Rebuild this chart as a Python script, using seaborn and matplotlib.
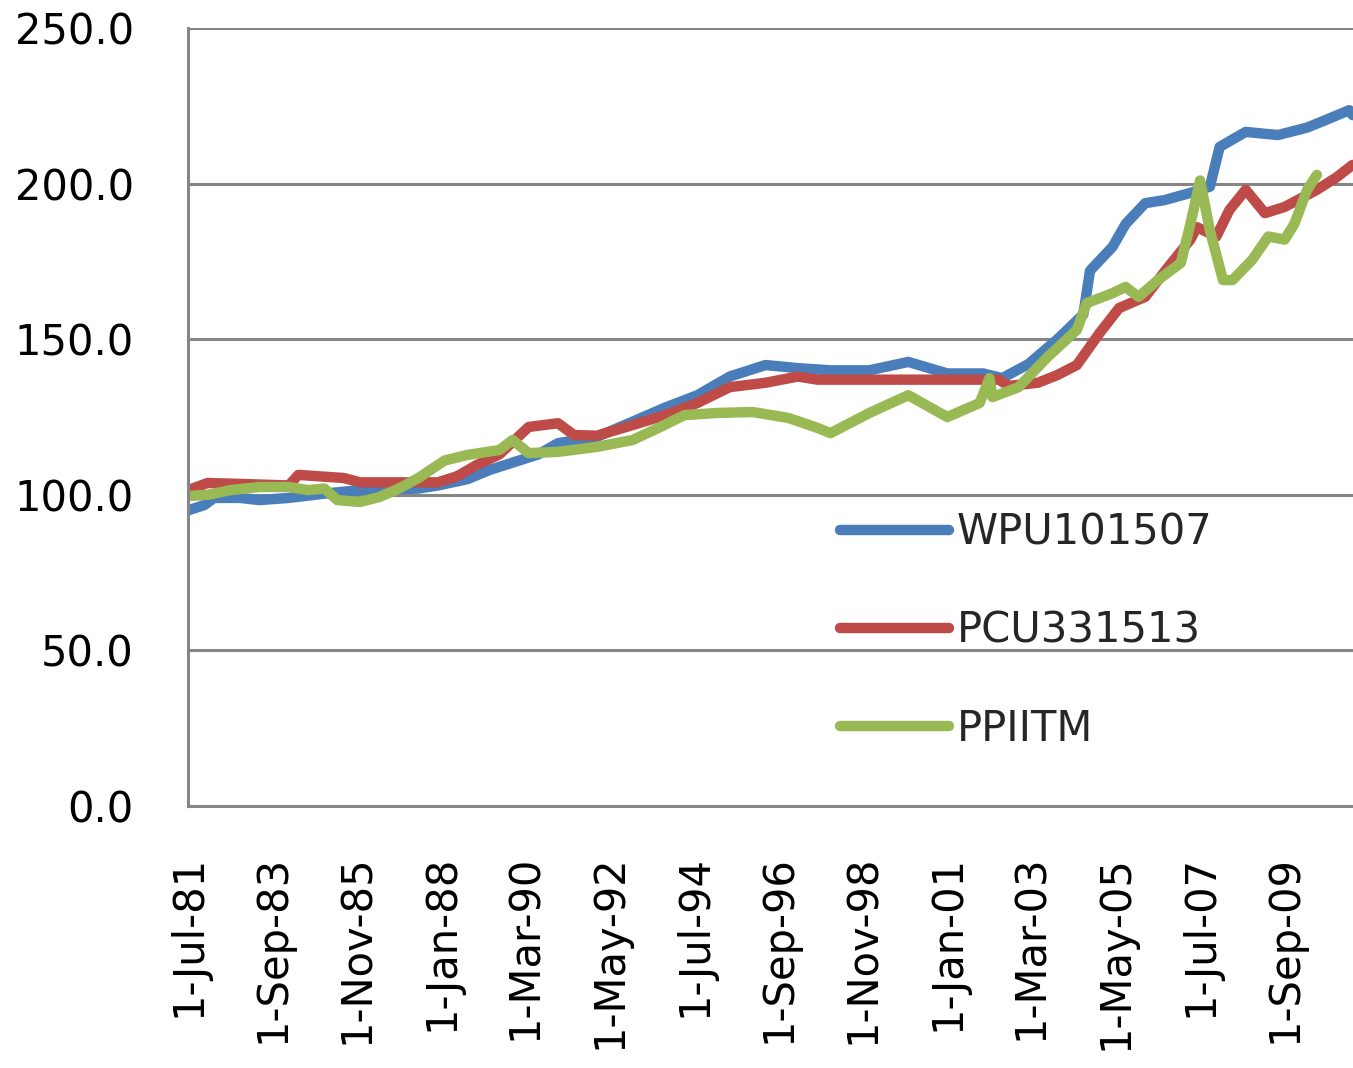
import pandas as pd
import numpy as np
import matplotlib
matplotlib.use('Agg')
import matplotlib.pyplot as plt
import matplotlib.dates as mdates
from matplotlib.lines import Line2D
import seaborn as sns

# series values (month, index value)
wpu_dates = ['1981-07', '1981-12', '1982-03', '1982-11', '1983-05', '1984-02', '1985-02', '1985-12',
             '1987-06', '1987-12', '1988-09', '1989-04', '1989-10', '1990-07', '1991-01', '1992-01',
             '1992-12', '1993-10', '1994-08', '1995-06', '1996-05', '1997-03', '1998-01', '1999-01',
             '2000-01', '2001-01', '2001-12', '2002-06', '2003-02', '2003-11', '2004-05', '2004-07',
             '2004-09', '2005-04', '2005-08', '2006-02', '2006-08', '2007-04', '2007-10', '2008-01',
             '2008-09', '2009-07', '2010-04', '2010-11', '2011-05', '2011-06']
wpu_values = [95, 96.7, 99, 99, 98.3, 99, 100.5, 101.5,
              102, 103, 105, 108, 110, 113, 116.6, 118.6,
              123.5, 128, 132, 138, 141.7, 140.7, 140, 140,
              142.7, 139, 139, 137.5, 142, 150, 156, 158,
              172, 179.7, 187, 193.7, 194.7, 197, 199, 211.8,
              216.6, 215.6, 218, 221, 223.6, 222]

pcu_dates = ['1981-07', '1982-01', '1982-11', '1984-02', '1984-05', '1985-07', '1985-12', '1986-10',
             '1987-12', '1988-06', '1988-12', '1989-07', '1990-04', '1991-01', '1991-06', '1992-01',
             '1992-12', '1993-10', '1994-08', '1995-06', '1996-05', '1997-03', '1997-09', '2002-05',
             '2002-08', '2003-05', '2003-11', '2004-05', '2004-12', '2005-06', '2006-02', '2006-09',
             '2007-04', '2007-06', '2007-12', '2008-04', '2008-09', '2009-03', '2009-09', '2010-01',
             '2010-07', '2011-01', '2011-06']
pcu_values = [101.5, 103.8, 103.5, 103, 106.4, 105.4, 104, 104,
              104, 106, 109.6, 113, 121.8, 123, 119.2, 119,
              122.4, 125.6, 129.5, 134.6, 136, 138, 137, 137,
              135, 136, 138.5, 141.7, 152, 160, 163.6, 173,
              182, 186, 183, 191.5, 198, 190.5, 192.5, 194.7,
              198, 202, 206]

ppi_dates = ['1981-07', '1982-01', '1982-08', '1983-05', '1984-02', '1984-08', '1985-01', '1985-05',
             '1985-12', '1986-06', '1986-12', '1987-06', '1988-02', '1988-09', '1989-07', '1989-11',
             '1990-04', '1991-01', '1992-01', '1992-12', '1993-08', '1994-04', '1995-02', '1996-01',
             '1996-12', '1997-09', '1998-01', '1999-01', '2000-01', '2001-01', '2001-11', '2002-02',
             '2002-03', '2002-11', '2003-08', '2004-05', '2004-08', '2005-04', '2005-08', '2005-12',
             '2006-06', '2007-01', '2007-04', '2007-07', '2007-10', '2008-02', '2008-05', '2008-11',
             '2009-04', '2009-09', '2009-12', '2010-04', '2010-07']
ppi_values = [99.6, 100, 101.5, 102.5, 102.5, 101.5, 102, 98.3,
              97.7, 99.3, 102, 105.4, 111, 112.8, 114.4, 117.6,
              113.4, 113.8, 115.4, 117.6, 121.5, 125.6, 126.3, 126.6,
              124.7, 121.5, 119.8, 126.3, 132, 125, 129.5, 137.5,
              131.4, 134.6, 144.3, 153, 161.6, 164.8, 166.8, 163.6,
              169, 174.5, 187, 201, 185, 169, 169, 175.5,
              183, 182, 187, 198, 202.8]

series_names = ['WPU101507', 'PCU331513', 'PPIITM']
colors = {'WPU101507': '#4A7EBB', 'PCU331513': '#BE4B48', 'PPIITM': '#98B954'}
tick_dates = ['1981-07-01', '1983-09-01', '1985-11-01', '1988-01-01', '1990-03-01', '1992-05-01',
              '1994-07-01', '1996-09-01', '1998-11-01', '2001-01-01', '2003-03-01', '2005-05-01',
              '2007-07-01', '2009-09-01']
y_ticks = [0, 50, 100, 150, 200, 250]

frames = []
for name, d, v in zip(series_names, [wpu_dates, pcu_dates, ppi_dates], [wpu_values, pcu_values, ppi_values]):
    frames.append(pd.DataFrame({'date': pd.to_datetime(d), 'value': v, 'series': name}))
df = pd.concat(frames, ignore_index=True)

sns.set_style('white')
plt.rcParams['font.family'] = ['DejaVu Sans']

fig = plt.figure(figsize=(13.53, 10.68), dpi=100)
ax = fig.add_axes([0.139, 0.2453, 0.861, 0.7285])

sns.lineplot(data=df, x='date', y='value', hue='series', hue_order=series_names,
             palette=colors, linewidth=7.5, legend=False, ax=ax,
             solid_joinstyle='round', solid_capstyle='round')

ax.set_xlim(pd.Timestamp('1981-07-01'), pd.Timestamp('2011-06-05'))
ax.set_ylim(0, 250)
ax.set_yticks(y_ticks)
ax.set_yticklabels([f'{t:.1f}' for t in y_ticks])
ticks = pd.to_datetime(tick_dates)
ax.set_xticks(mdates.date2num(ticks))
ax.set_xticklabels([f"{t.day}-{t.strftime('%b')}-{t.strftime('%y')}" for t in ticks], rotation=90)

ax.grid(axis='y', color='#868686', linewidth=2.2)
ax.grid(axis='x', visible=False)
for s in ['top', 'right']:
    ax.spines[s].set_visible(False)
for s in ['left', 'bottom']:
    ax.spines[s].set_color('#868686')
    ax.spines[s].set_linewidth(2.2)
ax.tick_params(axis='both', direction='out', length=14, width=2.2, color='#868686',
               labelsize=30, labelcolor='black')
ax.tick_params(axis='y', pad=25)
ax.tick_params(axis='x', pad=21)
ax.set_xlabel('')
ax.set_ylabel('')

handles = [Line2D([], [], color=colors[n], linewidth=7.5, solid_capstyle='round') for n in series_names]
fig.legend(handles, series_names, loc='upper left', bbox_to_anchor=(0.621, 0.5206),
           frameon=False, fontsize=30, handlelength=2.6, handletextpad=0.2,
           labelspacing=1.34, borderpad=0, borderaxespad=0)

fig.savefig('out.png', dpi=100)
